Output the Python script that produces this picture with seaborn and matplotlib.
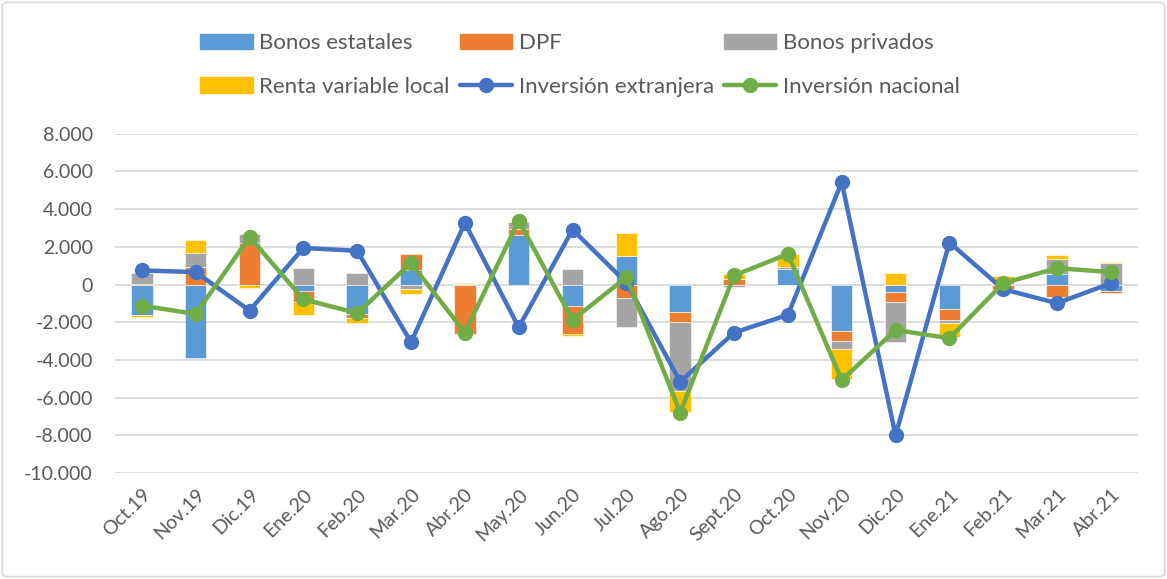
import numpy as np
import pandas as pd
import matplotlib.pyplot as plt
import matplotlib.ticker as mticker
from matplotlib.patches import FancyBboxPatch
from matplotlib.lines import Line2D
from matplotlib.patches import Patch
import seaborn as sns

# datos (millones)
meses = ['Oct.19', 'Nov.19', 'Dic.19', 'Ene.20', 'Feb.20', 'Mar.20', 'Abr.20',
         'May.20', 'Jun.20', 'Jul.20', 'Ago.20', 'Sept.20', 'Oct.20', 'Nov.20',
         'Dic.20', 'Ene.21', 'Feb.21', 'Mar.21', 'Abr.21']
bonos_estatales = [-1610, -3880, 0, -320, -1560, 750, 0, 2610, -1130, 1490,
                   -1440, -30, 800, -2460, -370, -1310, 50, 570, -330]
dpf = [50, 930, 2230, -580, -190, 850, -2640, 340, -1510, -720,
       -530, 270, -50, -530, -570, -570, -250, -640, -100]
bonos_privados = [550, 740, 470, 870, 610, -250, 30, 350, 840, -1550,
                  -3700, -100, 150, -430, -2090, -170, 150, 780, 1150]
renta_variable = [-90, 670, -160, -710, -300, -230, 60, 70, -80, 1240,
                  -1100, 300, 650, -1600, 610, -720, 250, 230, 50]
inv_extranjera = [750, 660, -1380, 1940, 1790, -3060, 3270, -2270, 2910, 100,
                  -5160, -2550, -1610, 5430, -8000, 2230, -250, -990, 70]
inv_nacional = [-1120, -1560, 2520, -780, -1520, 1140, -2550, 3390, -1880, 390,
                -6790, 480, 1620, -5070, -2410, -2850, 70, 870, 660]

series = [('Bonos estatales', bonos_estatales, '#5B9BD5'),
          ('DPF', dpf, '#ED7D31'),
          ('Bonos privados', bonos_privados, '#A5A5A5'),
          ('Renta variable local', renta_variable, '#FFC000')]

sns.set_style('white')
plt.rcParams['font.family'] = ['Lato', 'DejaVu Sans']
plt.rcParams['axes.unicode_minus'] = False

fig = plt.figure(figsize=(11.67, 5.79), dpi=100)
ax = fig.add_axes([0.0985, 0.183, 0.8765, 0.586])

x = np.arange(len(meses))
pos = np.zeros(len(meses))
neg = np.zeros(len(meses))
for nombre, vals, color in series:
    v = np.array(vals, dtype=float)
    base = np.where(v >= 0, pos, neg)
    ax.bar(x, v, bottom=base, width=0.4, color=color, edgecolor='white',
           linewidth=0.4, zorder=2)
    pos = pos + np.clip(v, 0, None)
    neg = neg + np.clip(v, None, 0)

df = pd.DataFrame({'x': x, 'ext': inv_extranjera, 'nac': inv_nacional})
sns.lineplot(data=df, x='x', y='ext', color='#4472C4', lw=3.2, marker='o',
             markersize=11, markeredgewidth=0, ax=ax, zorder=3)
sns.lineplot(data=df, x='x', y='nac', color='#70AD47', lw=3.2, marker='o',
             markersize=11, markeredgewidth=0, ax=ax, zorder=4)

ax.set_xlim(-0.5, len(meses) - 0.5)
ax.set_ylim(-10000, 8000)
ax.set_yticks(np.arange(-10000, 8001, 2000))
ax.yaxis.set_major_formatter(mticker.FuncFormatter(
    lambda v, p: f'{int(v):,}'.replace(',', '.')))
ax.set_xticks(x)
ax.set_xticklabels(meses, rotation=45, ha='right', rotation_mode='anchor')
ax.tick_params(axis='y', length=0, pad=16, labelsize=14, labelcolor='#595959')
ax.tick_params(axis='x', length=0, pad=9, labelsize=14, labelcolor='#595959')
ax.grid(axis='y', color='#D9D9D9', lw=1.3, zorder=0)
ax.set_axisbelow(True)
for s in ax.spines.values():
    s.set_visible(False)
ax.set_xlabel('')
ax.set_ylabel('')

handles = [Patch(color='#5B9BD5'), Patch(color='#FFC000'),
           Patch(color='#ED7D31'),
           Line2D([], [], color='#4472C4', lw=3.2, marker='o', markersize=10),
           Patch(color='#A5A5A5'),
           Line2D([], [], color='#70AD47', lw=3.2, marker='o', markersize=10)]
labels = ['Bonos estatales', 'Renta variable local', 'DPF',
          'Inversión extranjera', 'Bonos privados', 'Inversión nacional']
fig.legend(handles, labels, ncol=3, loc='center', bbox_to_anchor=(0.497, 0.888),
           frameon=False, fontsize=16, labelcolor='#595959', handlelength=2.35,
           handleheight=0.7, handletextpad=0.3, columnspacing=0.45,
           labelspacing=1.05)

fig.patches.append(FancyBboxPatch((0.002, 0.004), 0.996, 0.992,
                                  boxstyle='round,pad=0,rounding_size=0.006',
                                  transform=fig.transFigure, fill=False,
                                  edgecolor='#D9D9D9', lw=1.2))

plt.savefig('out.png', dpi=100)
